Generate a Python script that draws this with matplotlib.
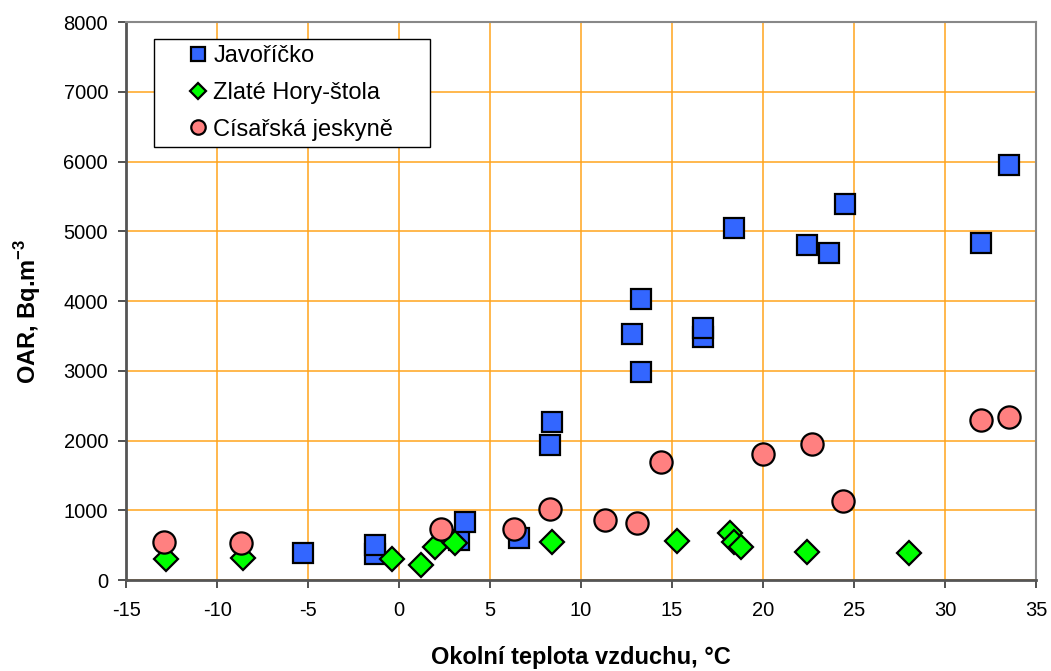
import matplotlib.pyplot as plt

plt.rcParams['font.family'] = ['Liberation Sans', 'DejaVu Sans']
plt.rcParams['axes.unicode_minus'] = False

# Javoříčko
jav_t = [-5.3, -1.3, -1.3, 3.3, 3.6, 6.6, 8.3, 8.4, 12.8, 13.3, 13.3, 16.7, 16.7, 18.4, 22.4, 23.6, 24.5, 32.0, 33.5]
jav_oar = [385, 370, 502, 573, 827, 597, 1935, 2265, 3522, 4024, 2982, 3480, 3608, 5042, 4803, 4684, 5386, 4836, 5950]

# Zlaté Hory-štola
zh_t = [-12.8, -8.6, -0.4, 1.2, 2.0, 3.1, 8.4, 15.3, 18.2, 18.4, 18.8, 22.4, 28.0]
zh_oar = [296, 320, 296, 215, 469, 526, 538, 559, 679, 550, 478, 396, 382]

# Císařská jeskyně
cj_t = [-12.9, -8.7, 2.3, 6.3, 8.3, 11.3, 13.1, 14.4, 20.0, 22.7, 24.4, 32.0, 33.5]
cj_oar = [550, 526, 727, 727, 1016, 860, 812, 1687, 1806, 1950, 1133, 2294, 2332]

fig = plt.figure(figsize=(10.51, 6.71), dpi=100)
ax = fig.add_axes([0.12, 0.1356, 0.8657, 0.8316])

ax.plot(jav_t, jav_oar, 's', ms=14.5, mfc='#3366ff', mec='black', mew=1.6,
        label='Javoříčko', zorder=3)
ax.plot(zh_t, zh_oar, 'D', ms=12.5, mfc='#00ff00', mec='black', mew=1.6,
        label='Zlaté Hory-štola', zorder=4)
ax.plot(cj_t, cj_oar, 'o', ms=16, mfc='#ff8080', mec='black', mew=1.6,
        label='Císařská jeskyně', zorder=5)

ax.set_xlim(-15, 35)
ax.set_ylim(0, 8000)
ax.set_xticks(range(-15, 36, 5))
ax.set_yticks(range(0, 8001, 1000))
ax.grid(True, color='#ffa41c', lw=1.1)
ax.set_axisbelow(True)

for s in ['left', 'bottom']:
    ax.spines[s].set_color('#555555')
    ax.spines[s].set_linewidth(2)
for s in ['top', 'right']:
    ax.spines[s].set_color('#888888')
    ax.spines[s].set_linewidth(1.5)
ax.tick_params(direction='out', length=6, width=1.2, color='#333333',
               labelsize=14.5, pad=7)
ax.tick_params(axis='x', pad=9)

ax.set_xlabel('Okolní teplota vzduchu, °C', fontsize=17, fontweight='bold', labelpad=19)
ax.set_ylabel('OAR, Bq.m$^{\\mathregular{-3}}$', fontsize=17, fontweight='bold')
ax.yaxis.set_label_coords(-0.091, 0.482)

leg = ax.legend(loc='upper left', bbox_to_anchor=(0.0308, 0.5, 0.3033, 0.4695),
                mode='expand', borderaxespad=0,
                fontsize=17, markerscale=0.65, fancybox=False, framealpha=1,
                edgecolor='black', handletextpad=-0.98, borderpad=0.25,
                labelspacing=0.63, handlelength=3.23)
leg.get_frame().set_linewidth(1)
leg.set_zorder(10)

fig.savefig('out.png', dpi=100)
